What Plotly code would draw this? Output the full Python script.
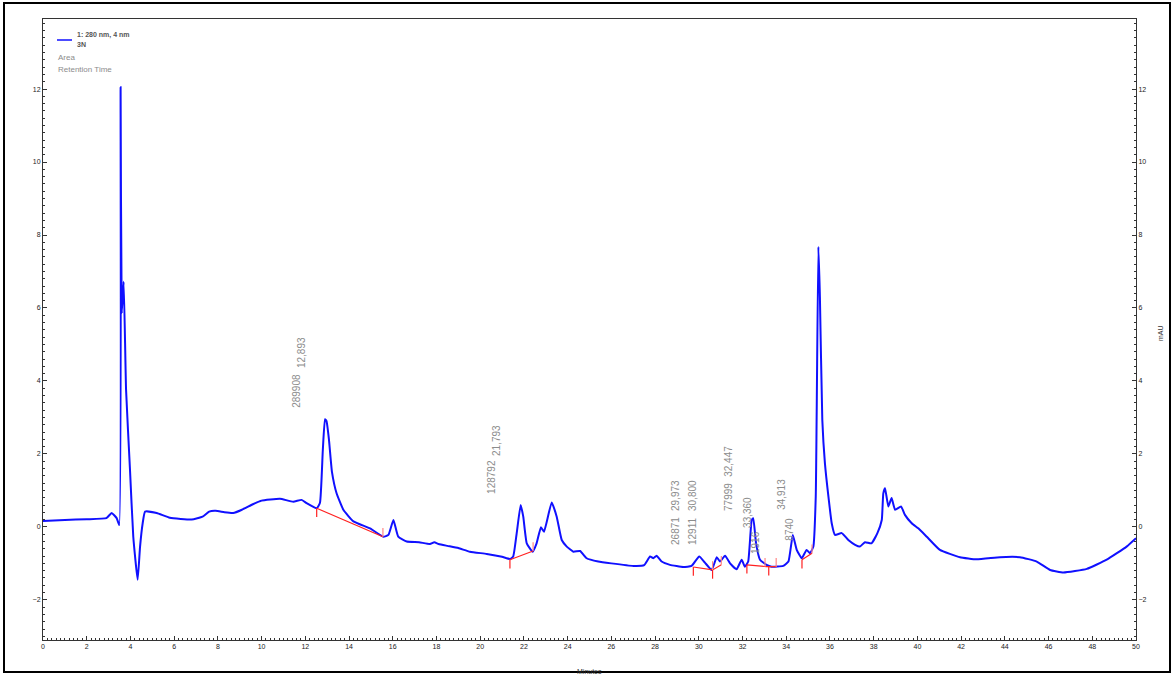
import plotly.graph_objects as go

# ---- chromatogram trace (minutes, mAU) ----
time_min = [0, 1, 2, 2.9, 3.14, 3.37, 3.49, 3.55, 3.6, 3.69, 3.8, 3.98, 4.13, 4.33, 4.44, 4.56, 4.67,
            5.2, 5.8, 6.8, 7.3, 7.6, 7.9, 8.3, 8.7, 9.1, 9.6, 10.0, 10.4, 10.84, 11.45, 11.83, 12.06,
            12.52, 12.67, 12.8, 12.9, 12.97, 13.08, 13.22, 13.43, 13.74, 14.2, 14.96, 15.57, 15.8, 16.03,
            16.25, 16.64, 17.2, 17.7, 17.9, 18.1, 18.5, 19.0, 19.53, 20.3, 21.0, 21.36, 21.51, 21.67,
            21.85, 21.97, 22.13, 22.4, 22.58, 22.78, 22.92, 23.27, 23.5, 23.73, 23.96, 24.26, 24.57,
            24.87, 25.4, 26.0, 27.0, 27.5, 27.77, 27.92, 28.07, 28.3, 28.68, 29.29, 29.67, 30.02,
            30.28, 30.59, 30.82, 30.97, 31.2, 31.43, 31.73, 31.96, 32.11, 32.26, 32.42, 32.49, 32.62,
            32.8, 33.1, 33.33, 33.86, 34.1, 34.3, 34.48, 34.71, 34.93, 35.09, 35.24, 35.35, 35.47,
            35.54, 35.65, 35.77, 35.93, 36.08, 36.23, 36.54, 36.84, 37.15, 37.37, 37.6, 37.9, 38.17,
            38.37, 38.44, 38.52, 38.67, 38.82, 38.98, 39.25, 39.43, 39.74, 40.04, 40.43, 41.03,
            41.95, 42.71, 43.78, 44.69, 45.46, 46.07, 46.68, 47.75, 48.66, 49.57, 50]
signal_mau = [0.16, 0.19, 0.21, 0.24, 0.38, 0.24, 0.05, 12.05, 5.86, 6.72, 3.75, 1.56, -0.27, -1.45,
              -0.54, 0.1, 0.42, 0.38, 0.25, 0.2, 0.28, 0.42, 0.44, 0.4, 0.38, 0.47, 0.62, 0.72, 0.75,
              0.77, 0.69, 0.74, 0.65, 0.51, 0.66, 2.1, 2.95, 2.9, 2.4, 1.5, 0.92, 0.47, 0.15, -0.04,
              -0.27, -0.22, 0.19, -0.27, -0.4, -0.42, -0.47, -0.42, -0.47, -0.52, -0.58, -0.68,
              -0.74, -0.82, -0.88, -0.81, -0.17, 0.6, 0.28, -0.45, -0.68, -0.45, -0.01, -0.13, 0.67,
              0.28, -0.36, -0.54, -0.68, -0.66, -0.86, -0.95, -1.0, -1.07, -1.05, -0.81, -0.86,
              -0.79, -0.95, -1.04, -1.1, -1.07, -0.81, -0.98, -1.18, -0.83, -0.95, -0.79, -1.0,
              -1.16, -0.9, -1.09, -0.95, 0.19, 0.24, -0.45, -0.9, -1.04, -1.09, -1.07, -0.95, -0.22,
              -0.63, -0.86, -0.63, -0.72, -0.54, 0.83, 7.68, 6.31, 2.93, 1.74, 0.83, 0.1, -0.22,
              -0.17, -0.36, -0.49, -0.54, -0.42, -0.45, -0.17, 0.19, 0.92, 1.06, 0.56, 0.79, 0.47,
              0.56, 0.33, 0.1, -0.04, -0.27, -0.63, -0.83, -0.89, -0.83, -0.83, -0.95, -1.18, -1.25,
              -1.15, -0.9, -0.54, -0.31]

# ---- integration baselines (segments of [time, mAU]) ----
baseline_segments = [
    [(12.52, 0.51), (15.55, -0.27)],
    [(21.36, -0.9), (22.42, -0.66)],
    [(29.75, -1.1), (30.63, -1.18), (31.03, -1.04)],
    [(32.2, -1.04), (33.1, -1.09), (33.56, -1.09)],
    [(34.72, -0.9), (35.18, -0.72)],
]
peak_start_marks = [(12.52, 0.51), (21.36, -0.9), (29.75, -1.1), (30.63, -1.18), (32.2, -1.04),
                    (33.2, -1.09), (34.72, -0.9)]
peak_end_marks = [(15.55, -0.27), (22.42, -0.66), (30.63, -1.18), (31.03, -1.04), (33.03, -1.09),
                  (33.54, -1.09), (35.18, -0.72)]

# ---- peak labels ----
retention_labels = ["12,893", "21,793", "29,973", "30,800", "32,447", "33,360", "34,913"]
area_labels = ["289908", "128792", "26871", "12911", "77999", "1916", "8740"]
rt_label_pos = [(11.80, 4.79), (20.72, 2.38), (28.96, 0.85), (29.74, 0.85), (31.38, 1.81),
                (32.25, 0.41), (33.81, 0.88)]
area_label_pos = [(11.62, 3.73), (20.54, 1.37), (28.96, -0.11), (29.74, -0.11), (31.38, 0.82),
                  (32.62, -0.44), (34.17, -0.05)]

x_ticks = list(range(0, 51, 2))
y_ticks = [-2, 0, 2, 4, 6, 8, 10, 12]

fig = go.Figure()

fig.add_trace(go.Scatter(x=time_min, y=signal_mau, mode="lines",
                         line=dict(color="#1010ff", width=2, shape="spline", smoothing=0.4),
                         showlegend=False, hoverinfo="skip"))

bx, by = [], []
for seg in baseline_segments:
    for t, v in seg:
        bx.append(t); by.append(v)
    bx.append(None); by.append(None)
fig.add_trace(go.Scatter(x=bx, y=by, mode="lines", line=dict(color="#ff2020", width=1.2),
                         showlegend=False, hoverinfo="skip"))

mark_len = 0.24
sx, sy = [], []
for t, v in peak_start_marks:
    sx += [t, t, None]; sy += [v, v - mark_len, None]
fig.add_trace(go.Scatter(x=sx, y=sy, mode="lines", line=dict(color="#ff2020", width=1.2),
                         showlegend=False, hoverinfo="skip"))
ex, ey = [], []
for t, v in peak_end_marks:
    ex += [t, t, None]; ey += [v, v + mark_len, None]
fig.add_trace(go.Scatter(x=ex, y=ey, mode="lines", line=dict(color="#ff8888", width=1.2),
                         showlegend=False, hoverinfo="skip"))

# dummy trace on right axis
fig.add_trace(go.Scatter(x=[None], y=[None], yaxis="y2", showlegend=False))

annos = []
for txt, (t, v) in zip(retention_labels, rt_label_pos):
    annos.append(dict(x=t, y=v, xref="x", yref="y", text=txt, showarrow=False, textangle=-90,
                      font=dict(family="Liberation Sans", size=10, color="#8c8c8c")))
for txt, (t, v) in zip(area_labels, area_label_pos):
    annos.append(dict(x=t, y=v, xref="x", yref="y", text=txt, showarrow=False, textangle=-90,
                      font=dict(family="Liberation Sans", size=10, color="#8c8c8c")))

W, H = 1173, 675
L, R, T, B = 43, 37, 19, 35
pw, ph = W - L - R, H - T - B


def px(xp):
    return (xp - L) / pw


def py(yp):
    return (H - B - yp) / ph


annos += [
    dict(x=px(75), y=py(35), xref="paper", yref="paper", text="<b>1: 280 nm, 4 nm</b>", showarrow=False,
         xanchor="left", yanchor="middle", font=dict(family="Liberation Sans", size=7, color="#555555")),
    dict(x=px(75), y=py(45), xref="paper", yref="paper", text="<b>3N</b>", showarrow=False,
         xanchor="left", yanchor="middle", font=dict(family="Liberation Sans", size=7, color="#555555")),
    dict(x=px(56), y=py(57), xref="paper", yref="paper", text="Area", showarrow=False,
         xanchor="left", yanchor="middle", font=dict(family="Liberation Sans", size=8, color="#8c8c8c")),
    dict(x=px(56), y=py(69), xref="paper", yref="paper", text="Retention Time", showarrow=False,
         xanchor="left", yanchor="middle", font=dict(family="Liberation Sans", size=8, color="#8c8c8c")),
    dict(x=px(589), y=py(671), xref="paper", yref="paper", text="Minutes", showarrow=False,
         xanchor="center", yanchor="middle", font=dict(family="Liberation Sans", size=7, color="#333333")),
    dict(x=px(1160), y=py(333), xref="paper", yref="paper", text="mAU", showarrow=False, textangle=-90,
         xanchor="center", yanchor="middle", font=dict(family="Liberation Sans", size=7, color="#333333")),
]

shapes = [
    dict(type="line", xref="paper", yref="paper", x0=px(57), x1=px(72), y0=py(40), y1=py(40),
         line=dict(color="#1010ff", width=1.5)),
    dict(type="rect", xref="paper", yref="paper", x0=px(4), x1=px(1170), y0=py(672), y1=py(3),
         line=dict(color="black", width=2)),
]

tickfont = dict(family="Liberation Sans", size=7, color="#222222")
axis_common = dict(showgrid=False, zeroline=False, showline=True, linecolor="#333333", linewidth=1,
                   ticks="inside", ticklen=4, tickcolor="#333333", tickfont=tickfont)

fig.update_layout(
    width=W, height=H,
    margin=dict(l=L, r=R, t=T, b=B, pad=0),
    plot_bgcolor="white", paper_bgcolor="white",
    xaxis=dict(range=[0, 50], tickvals=x_ticks, mirror=True,
               minor=dict(dtick=0.2, ticks="inside", ticklen=2, tickcolor="#333333"),
               **axis_common),
    yaxis=dict(range=[-3.1, 13.92], tickvals=y_ticks,
               minor=dict(dtick=0.2, ticks="inside", ticklen=2, tickcolor="#333333"),
               **axis_common),
    yaxis2=dict(range=[-3.1, 13.92], tickvals=y_ticks, overlaying="y", side="right",
                minor=dict(dtick=0.2, ticks="inside", ticklen=2, tickcolor="#333333"),
                **axis_common),
    annotations=annos,
    shapes=shapes,
)

fig.write_html("out.html")
